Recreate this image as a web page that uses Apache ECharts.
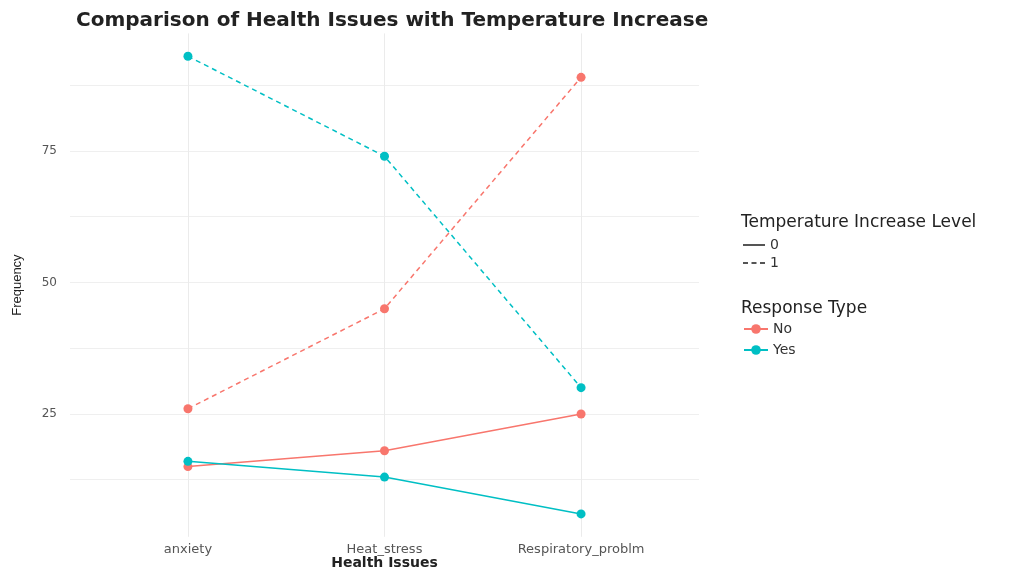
<!DOCTYPE html>
<html>
<head>
<meta charset="utf-8">
<script src="https://cdn.jsdelivr.net/npm/echarts@6/dist/echarts.min.js"></script>
<style>
html,body{margin:0;padding:0;background:#fff;}
#chart{width:1025px;height:568px;}
</style>
</head>
<body>
<div id="chart"></div>
<script>
// ---- data ----
const categories = ["anxiety", "Heat_stress", "Respiratory_problm"];
const noLevel0  = [15, 18, 25];
const yesLevel0 = [16, 13, 6];
const noLevel1  = [26, 45, 89];
const yesLevel1 = [93, 74, 30];
const yTickLabels = [25, 50, 75];
const yGridValues = [12.5, 25, 37.5, 50, 62.5, 75, 87.5];

const RED = "#F8766D", TEAL = "#00BFC4";
const FONT = "DejaVu Sans, Verdana, sans-serif";

function pts(arr){ return arr.map((v,i)=>[i, v]); }

function mkSeries(name, data, color, dashed){
  return {
    name: name, type: "line", data: pts(data),
    symbol: "circle", symbolSize: 9,
    itemStyle: {color: color},
    lineStyle: {color: color, width: 1.5, type: dashed ? [5, 4] : "solid"},
    emphasis: {disabled: true}, z: 3
  };
}
function legendSeries(name, color){
  return {
    name: name, type: "line", data: [],
    symbol: "circle", symbolSize: 8,
    itemStyle: {color: color},
    lineStyle: {color: color, width: 2}
  };
}

const chart = echarts.init(document.getElementById("chart"), null, {renderer: "canvas"});
chart.setOption({
  animation: false,
  backgroundColor: "#fff",
  title: [
    {text: "Comparison of Health Issues with Temperature Increase", left: 71, top: 6,
     textStyle: {fontFamily: FONT, fontSize: 20, fontWeight: "bold", color: "#222"}},
    {text: "Temperature Increase Level", left: 736, top: 209,
     textStyle: {fontFamily: FONT, fontSize: 17, fontWeight: "normal", color: "#222"}},
    {text: "Response Type", left: 736, top: 295,
     textStyle: {fontFamily: FONT, fontSize: 17, fontWeight: "normal", color: "#222"}}
  ],
  legend: [
    {data: [
       {name: "0", icon: "path://M0,0H22V2H0Z"},
       {name: "1", icon: "path://M0,0H5V2H0Z M8.5,0H13.5V2H8.5Z M17,0H22V2H17Z"}
     ],
     orient: "vertical", left: 738, top: 233, itemGap: 4,
     itemWidth: 22, itemHeight: 2, selectedMode: false,
     textStyle: {fontFamily: FONT, fontSize: 14, color: "#333"}},
    {data: ["No", "Yes"], orient: "vertical", left: 738, top: 317, itemGap: 7,
     itemWidth: 24, itemHeight: 12, selectedMode: false,
     textStyle: {fontFamily: FONT, fontSize: 14, color: "#333"}}
  ],
  grid: {left: 70, right: 326, top: 33.4, bottom: 31.2, containLabel: false, outerBoundsMode: "none"},
  xAxis: {
    type: "value", min: -0.6, max: 2.6,
    name: "Health Issues", nameLocation: "middle", nameGap: 20, nameMoveOverlap: false,
    nameTextStyle: {fontFamily: FONT, fontSize: 14, fontWeight: "bold", color: "#222"},
    axisLine: {show: false}, axisTick: {show: false, customValues: [0, 1, 2]},
    axisLabel: {customValues: [0, 1, 2], formatter: v => categories[Math.round(v)],
      fontFamily: FONT, fontSize: 13, color: "#555", margin: 6},
    splitLine: {show: true, lineStyle: {color: "#ebebeb", width: 1}}
  },
  yAxis: {
    type: "value", min: 1.65, max: 97.35,
    name: "Frequency", nameLocation: "middle", nameGap: 46, nameRotate: 90, nameMoveOverlap: false,
    nameTextStyle: {fontFamily: "Liberation Sans, Arial, sans-serif", fontSize: 13, color: "#222"},
    axisLine: {show: false}, axisTick: {show: false, customValues: yGridValues},
    axisLabel: {customValues: yTickLabels, fontFamily: FONT, fontSize: 12, color: "#555", margin: 13},
    splitLine: {show: true, lineStyle: {color: "#efefef", width: 1}}
  },
  series: [
    mkSeries("No-0", noLevel0, RED, false),
    mkSeries("Yes-0", yesLevel0, TEAL, false),
    mkSeries("No-1", noLevel1, RED, true),
    mkSeries("Yes-1", yesLevel1, TEAL, true),
    {name: "0", type: "line", data: [], symbol: "none", itemStyle: {color: "#555"}, lineStyle: {color: "#555"}},
    {name: "1", type: "line", data: [], symbol: "none", itemStyle: {color: "#555"}, lineStyle: {color: "#555", type: "dashed"}},
    legendSeries("No", RED),
    legendSeries("Yes", TEAL)
  ]
});
</script>
</body>
</html>
